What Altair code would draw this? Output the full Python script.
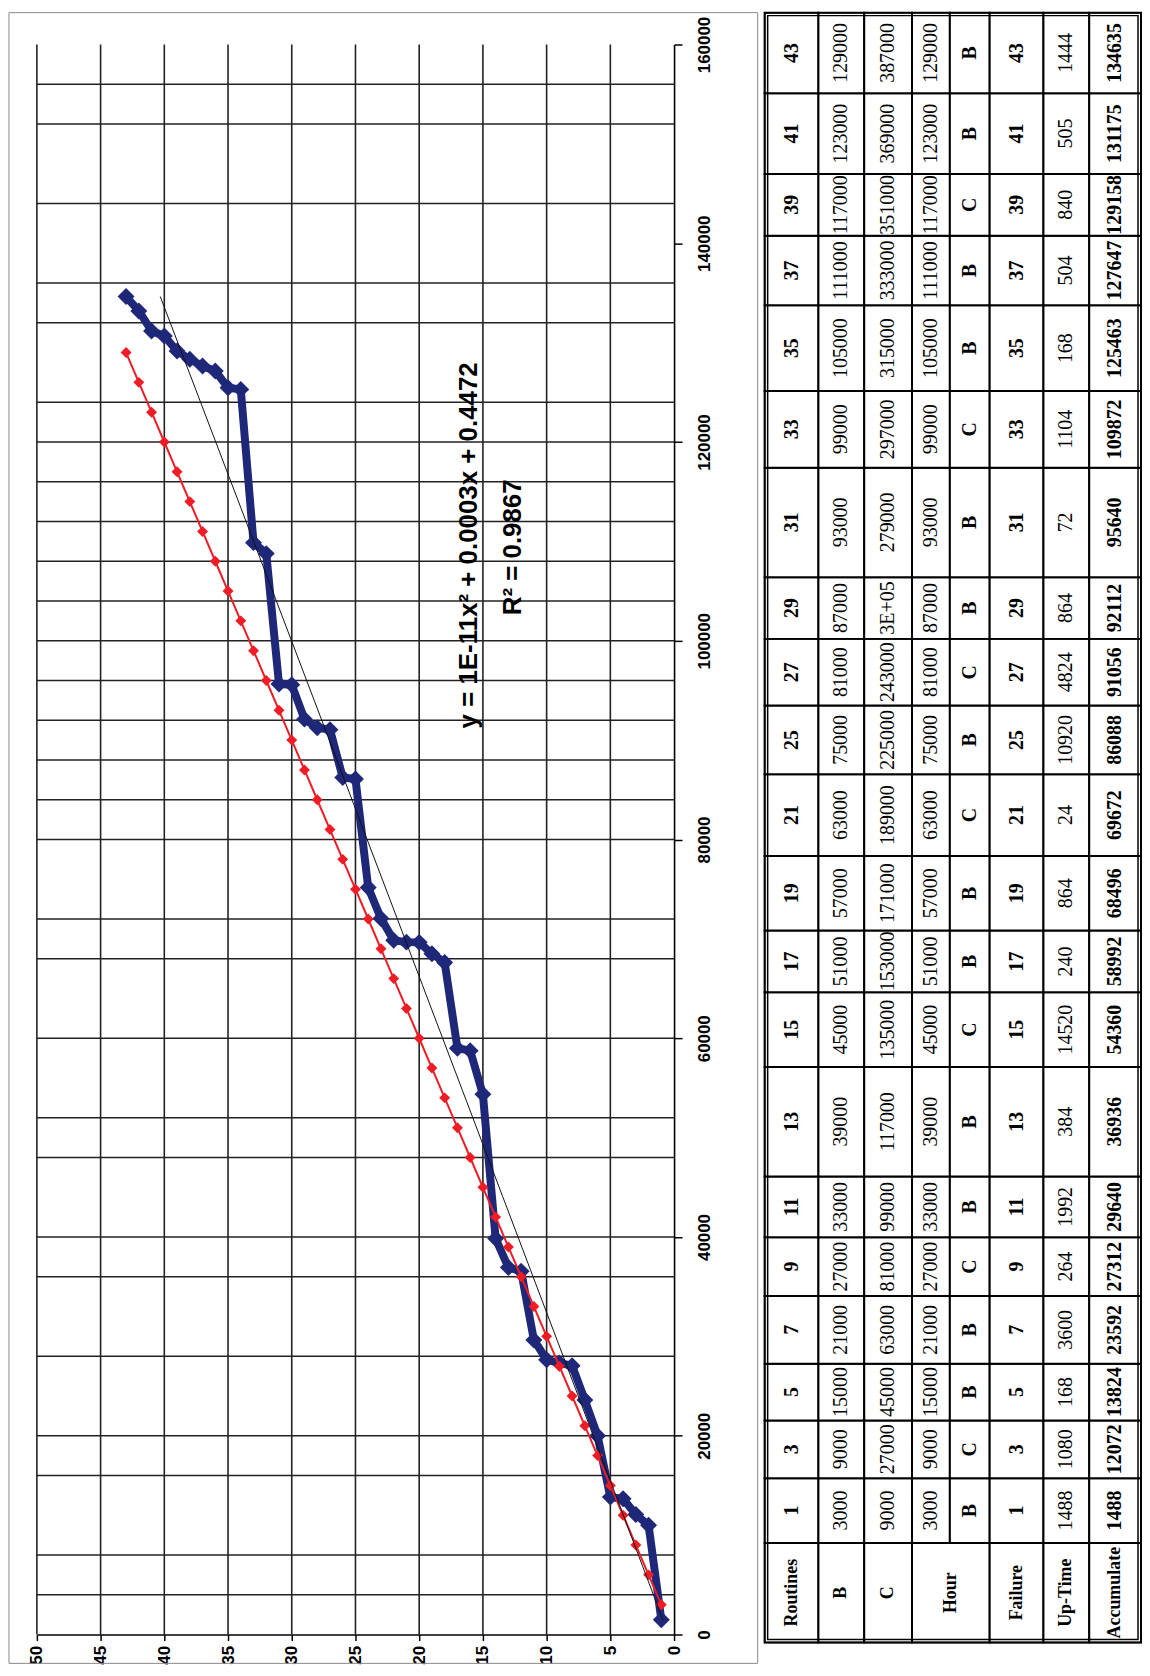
import altair as alt
import pandas as pd
import numpy as np

failure_no = list(range(1, 44))
accumulated_hours = [1488, 10992, 12072, 13656, 13824, 19992, 23592, 27048, 27312, 27648,
                     29640, 36552, 36936, 39840, 54360, 58752, 58992, 67632, 68496, 69648,
                     69672, 69850, 72050, 75168, 86088, 86232, 91056, 91248, 92112, 95568,
                     95640, 108768, 109872, 125295, 125463, 127143, 127647, 128318, 129158, 130670,
                     131175, 133191, 134635]

routine_failure_no = list(range(1, 44))
routine_hours = [3000, 6000, 9000, 12000, 15000, 18000, 21000, 24000, 27000, 30000,
                 33000, 36000, 39000, 42000, 45000, 48000, 51000, 54000, 57000, 60000,
                 63000, 66000, 69000, 72000, 75000, 78000, 81000, 84000, 87000, 90000,
                 93000, 96000, 99000, 102000, 105000, 108000, 111000, 114000, 117000, 120000,
                 123000, 126000, 129000]

table_failure = [1, 3, 5, 7, 9, 11, 13, 15, 17, 19, 21, 25, 27, 29, 31, 33, 35, 37, 39, 41, 43]
table_b = ["3000", "9000", "15000", "21000", "27000", "33000", "39000", "45000", "51000", "57000",
           "63000", "75000", "81000", "87000", "93000", "99000", "105000", "111000", "117000",
           "123000", "129000"]
table_c = ["9000", "27000", "45000", "63000", "81000", "99000", "117000", "135000", "153000",
           "171000", "189000", "225000", "243000", "3E+05", "279000", "297000", "315000",
           "333000", "351000", "369000", "387000"]
table_hour = ["3000", "9000", "15000", "21000", "27000", "33000", "39000", "45000", "51000", "57000",
              "63000", "75000", "81000", "87000", "93000", "99000", "105000", "111000", "117000",
              "123000", "129000"]
table_routine = ["B", "C", "B", "B", "C", "B", "B", "C", "B", "B", "C", "B", "C", "B", "B", "C",
                 "B", "B", "C", "B", "B"]
table_uptime = ["1488", "1080", "168", "3600", "264", "1992", "384", "14520", "240", "864", "24",
                "10920", "4824", "864", "72", "1104", "168", "504", "840", "505", "1444"]
table_accum = ["1488", "12072", "13824", "23592", "27312", "29640", "36936", "54360", "58992",
               "68496", "69672", "86088", "91056", "92112", "95640", "109872", "125463", "127647",
               "129158", "131175", "134635"]
table_labels = ["Routines", "B", "C", "Hour", "Failure", "Up-Time", "Accumulate"]

eq_text = "y = 1E-11x\u00b2 + 0.0003x + 0.4472"
r2_text = "R\u00b2 = 0.9867"

hour_ticks = [0, 20000, 40000, 60000, 80000, 100000, 120000, 140000, 160000]
failure_ticks = [0, 5, 10, 15, 20, 25, 30, 35, 40, 45, 50]
grid_failures = [5, 10, 15, 20, 25, 30, 35, 40, 45, 50]
grid_hours = [4000, 8000, 16000, 20000, 28000, 36000, 40000, 48000, 52000, 60000, 68000, 72000,
              80000, 84000, 88000, 92000, 96000, 100000, 104000, 108000, 112000, 116000, 120000,
              124000, 132000, 136000, 144000, 152000, 156000]

# ---------------- layout / style ----------------
strip_widths = [54, 46, 48, 38, 40, 54, 46, 52]
row_lengths = [100, 65, 58, 57, 68, 59, 61, 110, 75, 62, 75, 82, 69, 67, 62, 110, 77, 86, 70, 62, 81, 81]
BLUE = "#1f2878"
RED = "#ee1c25"
GRID = "#222222"
PW, PH = 640, 1629

xs = alt.Scale(domain=[0, 50], reverse=True, nice=False, zero=False)
ys = alt.Scale(domain=[0, 160000], range=[PH, 32], nice=False, zero=False)

x_axis = alt.Axis(values=failure_ticks, orient="bottom", labelAngle=270, labelAlign="right",
                  labelBaseline="middle", labelFont="Liberation Sans", labelFontSize=17,
                  labelFontWeight="bold", labelColor="black", tickSize=6, tickColor="black",
                  tickWidth=1.5, domainColor="black", domainWidth=1.6, grid=False, title=None,
                  labelPadding=5, labelFlush=False, labelOverlap=False)
y_axis = alt.Axis(values=hour_ticks, orient="right", labelAngle=270, labelAlign="center",
                  labelBaseline="top", labelFont="Liberation Sans", labelFontSize=17,
                  labelFontWeight="bold", labelColor="black", tickSize=8, tickColor="black",
                  tickWidth=1.5, domainColor="black", domainWidth=1.6, grid=False, title=None,
                  format="d", labelPadding=15, labelFlush=False, labelOverlap=False)


def X(field):
    return alt.X(field, scale=xs, axis=x_axis, title=None)


def Y(field):
    return alt.Y(field, scale=ys, axis=y_axis, title=None)


blue_df = pd.DataFrame({"failure": failure_no, "hours": accumulated_hours})
red_df = pd.DataFrame({"failure": routine_failure_no, "hours": routine_hours})
gv_df = pd.DataFrame({"failure": grid_failures, "t0": 0, "t1": 160000})
gh_df = pd.DataFrame({"hours": grid_hours, "f0": 0, "f1": 50})
ann_df = pd.DataFrame({"failure": [16.1, 12.66], "hours": [109600, 109400],
                       "label": [eq_text, r2_text]})

grid_v = alt.Chart(gv_df).mark_rule(color=GRID, strokeWidth=1.6).encode(
    x=X("failure:Q"), y=Y("t0:Q"), y2="t1:Q")
grid_h = alt.Chart(gh_df).mark_rule(color=GRID, strokeWidth=1.6).encode(
    x=X("f0:Q"), x2="f1:Q", y=Y("hours:Q"))

blue_line = alt.Chart(blue_df).mark_line(color=BLUE, strokeWidth=8, strokeJoin="round").encode(
    x=X("failure:Q"), y=Y("hours:Q"), order="hours:Q")
blue_pts = alt.Chart(blue_df).mark_point(shape="diamond", filled=True, size=290, color=BLUE,
                                         opacity=1).encode(x=X("failure:Q"), y=Y("hours:Q"))

red_line = alt.Chart(red_df).mark_line(color=RED, strokeWidth=2).encode(
    x=X("failure:Q"), y=Y("hours:Q"), order="hours:Q")
red_pts = alt.Chart(red_df).mark_point(shape="diamond", filled=True, size=120, color=RED,
                                       opacity=1).encode(x=X("failure:Q"), y=Y("hours:Q"))

trend = alt.Chart(blue_df).transform_regression(
    "hours", "failure", method="poly", order=2).mark_line(color="#111111", strokeWidth=1).encode(
    x=X("failure:Q"), y=Y("hours:Q"), order="hours:Q")

ann = alt.Chart(ann_df).mark_text(angle=270, font="Liberation Sans", fontWeight="bold",
                                  fontSize=26, align="center", baseline="middle",
                                  color="black").encode(
    x=X("failure:Q"), y=Y("hours:Q"), text="label:N")

frame = alt.Chart(pd.DataFrame({"a": [0]})).mark_rect(
    fillOpacity=0, stroke="#888888", strokeWidth=1).encode(
    x=alt.value(-28), x2=alt.value(724), y=alt.value(0), y2=alt.value(1658))

plot = alt.layer(grid_v, grid_h, blue_line, blue_pts, red_line, red_pts, trend, ann, frame
                 ).properties(width=PW, height=PH)

# ---------------- table ----------------
x_edges = np.concatenate([[0], np.cumsum(strip_widths)])
y_edges = np.concatenate([[0], np.cumsum(row_lengths)])
TW, TH = int(x_edges[-1]), int(y_edges[-1])

cells, texts = [], []
label_spans = [(0, 1), (1, 2), (2, 3), (3, 5), (5, 6), (6, 7), (7, 8)]
for lab, (a, b) in zip(table_labels, label_spans):
    cells.append({"x0": x_edges[a], "x1": x_edges[b], "y0": y_edges[0], "y1": y_edges[1]})
    texts.append({"cx": (x_edges[a] + x_edges[b]) / 2, "cy": (y_edges[0] + y_edges[1]) / 2,
                  "text": lab, "kind": "label"})
columns = [([str(v) for v in table_failure], "bold"), (table_b, "normal"), (table_c, "normal"),
           (table_hour, "normal"), (table_routine, "bold"), ([str(v) for v in table_failure], "bold"),
           (table_uptime, "normal"), (table_accum, "bold")]
for r in range(len(table_failure)):
    y0, y1 = y_edges[r + 1], y_edges[r + 2]
    for j, (vals, kind) in enumerate(columns):
        cells.append({"x0": x_edges[j], "x1": x_edges[j + 1], "y0": y0, "y1": y1})
        texts.append({"cx": (x_edges[j] + x_edges[j + 1]) / 2, "cy": (y0 + y1) / 2,
                      "text": vals[r], "kind": kind})
cells_df = pd.DataFrame(cells)
texts_df = pd.DataFrame(texts)
outer_df = pd.DataFrame({"x0": [0, 3], "x1": [TW, TW - 3], "y0": [0, 3], "y1": [TH, TH - 3]})

tx = alt.Scale(domain=[0, TW], nice=False, zero=False)
ty = alt.Scale(domain=[0, TH], nice=False, zero=False)

cell_rects = alt.Chart(cells_df).mark_rect(fill="white", stroke="black", strokeWidth=2).encode(
    x=alt.X("x0:Q", scale=tx, axis=None), x2="x1:Q",
    y=alt.Y("y0:Q", scale=ty, axis=None), y2="y1:Q")
outer_rects = alt.Chart(outer_df).mark_rect(fillOpacity=0, stroke="black", strokeWidth=1.5).encode(
    x=alt.X("x0:Q", scale=tx, axis=None), x2="x1:Q",
    y=alt.Y("y0:Q", scale=ty, axis=None), y2="y1:Q")


def text_layer(kind, weight, size):
    return alt.Chart(texts_df).transform_filter(
        alt.datum.kind == kind).mark_text(
        angle=270, font="Liberation Serif", fontSize=size,
        fontWeight=weight, align="center", baseline="middle",
        color="black").encode(
        x=alt.X("cx:Q", scale=tx, axis=None),
        y=alt.Y("cy:Q", scale=ty, axis=None),
        text="text:N")


table = alt.layer(cell_rects, outer_rects,
                  text_layer("label", "bold", 18),
                  text_layer("bold", "bold", 20),
                  text_layer("normal", "normal", 20)
                  ).properties(width=TW, height=TH)

chart = alt.hconcat(plot, table, spacing=91, bounds="flush",
                    padding={"left": 0, "top": 0, "right": 0, "bottom": 0}
                    ).configure_view(stroke=None)

chart.save("out.html", embed_options={"renderer": "svg", "actions": False})
